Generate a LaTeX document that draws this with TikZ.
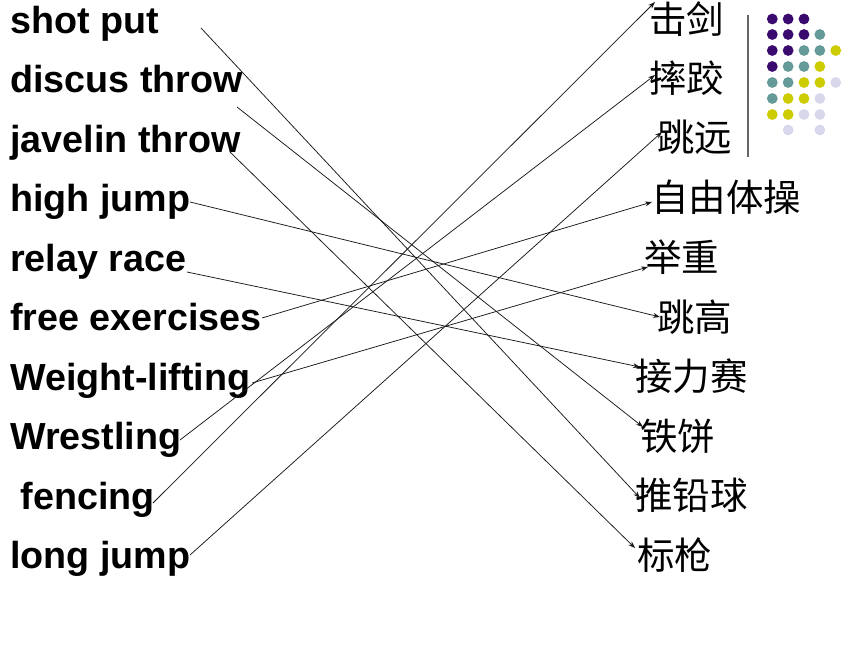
\documentclass[tikz,border=0pt]{standalone}
\usepackage{fontspec}
\setmainfont{Liberation Sans}
\newfontfamily\cjk{Noto Sans CJK SC}
\usetikzlibrary{arrows.meta}
\definecolor{dpurple}{HTML}{3A0A6E}
\definecolor{dteal}{HTML}{669A9A}
\definecolor{dyellow}{HTML}{CCCC00}
\definecolor{dlav}{HTML}{D8D8EC}
\begin{document}
\begin{tikzpicture}[x=1pt,y=-1pt,
  en/.style={anchor=base west,inner sep=0pt,font=\bfseries\fontsize{37.7}{40}\selectfont},
  zh/.style={anchor=west,inner sep=0pt,text height=31pt,text depth=5pt,font=\cjk\fontsize{37.5}{40}\selectfont},
  link/.style={draw=black!90,line width=0.75pt,-{Stealth[length=7pt,width=5pt]}},
  dot/.style={circle,inner sep=0pt,minimum size=10.8pt,fill=#1}]
\useasboundingbox[fill=white] (0,0) rectangle (860,645);
% English
\node[en] (e1) at (10,33) {shot put};
\node[en] (e2) at (10,92.5) {discus throw};
\node[en] (e3) at (10,152) {javelin throw};
\node[en] (e4) at (10,211.5) {high jump};
\node[en] (e5) at (10,271) {relay race};
\node[en] (e6) at (10,330.5) {free exercises};
\node[en] (e7) at (10,390) {Weight-lifting};
\node[en] (e8) at (10,449.5) {Wrestling};
\node[en] (e9) at (10,509) {\ fencing};
\node[en] (e10) at (10,568.5) {long jump};
% Chinese
\node[zh] (c1) at (649,20) {击剑};
\node[zh] (c2) at (649,79) {摔跤};
\node[zh] (c3) at (657,138) {跳远};
\node[zh] (c4) at (651,198) {自由体操};
\node[zh] (c5) at (644,258) {举重};
\node[zh] (c6) at (657,318) {跳高};
\node[zh] (c7) at (635,377) {接力赛};
\node[zh] (c8) at (640,437) {铁饼};
\node[zh] (c9) at (635,496) {推铅球};
\node[zh] (c10) at (637,556) {标枪};
% connector ends
\coordinate (s1) at (201,28);
\coordinate (s2) at (237,107);
\coordinate (s3) at (230,152);
\coordinate (s4) at (190,202);
\coordinate (s5) at (187,272);
\coordinate (s6) at (262,318);
\coordinate (s7) at (252,383);
\coordinate (s8) at (180,440);
\coordinate (s9) at (153,503);
\coordinate (s10) at (190,555);
\coordinate (t1) at (655,2);
\coordinate (t2) at (655,75);
\coordinate (t3) at (662,132);
\coordinate (t4) at (652,202);
\coordinate (t5) at (648,267);
\coordinate (t6) at (660,317);
\coordinate (t7) at (640,367);
\coordinate (t8) at (643,427);
\coordinate (t9) at (640,498);
\coordinate (t10) at (635,548);
\draw[link] (s1) -- (t9);
\draw[link] (s2) -- (t8);
\draw[link] (s3) -- (t10);
\draw[link] (s4) -- (t6);
\draw[link] (s5) -- (t7);
\draw[link] (s6) -- (t4);
\draw[link] (s7) -- (t5);
\draw[link] (s8) -- (t2);
\draw[link] (s9) -- (t1);
\draw[link] (s10) -- (t3);
% decoration
\coordinate (va) at (748,15);
\coordinate (vb) at (748,157);
\draw[gray!80!black,line width=1.2pt] (va) -- (vb);
\foreach \r/\y/\cols in {0/19/{1/dpurple,2/dpurple,3/dpurple},
  1/34.5/{1/dpurple,2/dpurple,3/dpurple,4/dteal},
  2/50.5/{1/dpurple,2/dpurple,3/dteal,4/dteal,5/dyellow},
  3/66.5/{1/dpurple,2/dteal,3/dteal,4/dyellow},
  4/82.5/{1/dteal,2/dteal,3/dyellow,4/dyellow,5/dlav},
  5/98.5/{1/dteal,2/dyellow,3/dyellow,4/dlav},
  6/114.5/{1/dyellow,2/dyellow,3/dlav,4/dlav},
  7/130/{2/dlav,4/dlav}}{
  \foreach \c/\col in \cols {
    \node[dot=\col] (d\r\c) at ({772.3+15.85*(\c-1)},\y) {};
  }
}
\end{tikzpicture}
\end{document}
